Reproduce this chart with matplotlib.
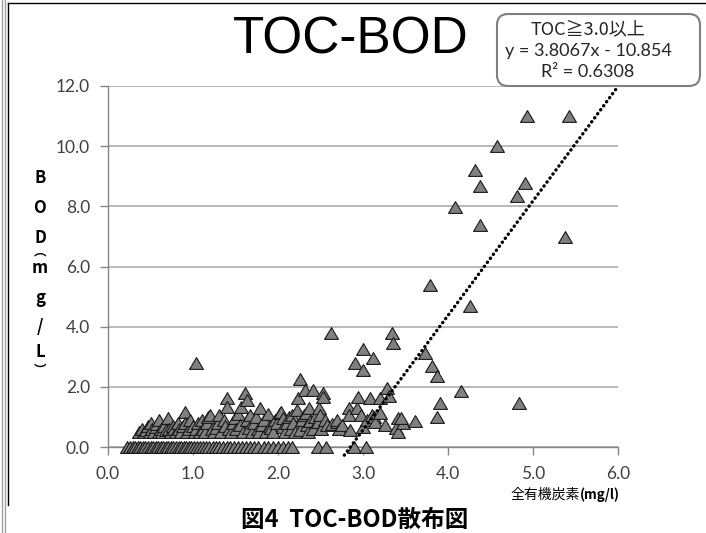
import matplotlib
matplotlib.use("Agg")
import matplotlib.pyplot as plt
import matplotlib.patches as mpatches
from matplotlib.lines import Line2D
from matplotlib.transforms import IdentityTransform
from matplotlib.ticker import FormatStrFormatter

# --- data ---
# BOD below detection limit, plotted at 0
nd_toc = [0.22, 0.26, 0.29, 0.32, 0.35, 0.38, 0.41, 0.44, 0.47, 0.50,
          0.53, 0.56, 0.59, 0.62, 0.65, 0.68, 0.71, 0.74, 0.77, 0.80,
          0.83, 0.86, 0.89, 0.92, 0.95, 0.98, 1.01, 1.05, 1.08, 1.12,
          1.15, 1.19, 1.23, 1.27, 1.31, 1.35, 1.40, 1.44, 1.48, 1.53,
          1.58, 1.62, 1.67, 1.72, 1.77, 1.83, 1.88, 1.94, 2.00, 2.06,
          2.12, 2.17, 2.47, 2.56, 2.89, 3.04]
nd_bod = [0.0] * len(nd_toc)

# TOC < 1.2
low_pts = [(0.37, 0.5), (0.40, 0.6), (0.42, 0.5), (0.45, 0.55), (0.47, 0.7),
           (0.49, 0.5), (0.50, 0.8), (0.52, 0.6), (0.54, 0.5), (0.56, 0.65),
           (0.58, 0.75), (0.60, 0.5), (0.60, 0.9), (0.62, 0.6), (0.64, 0.5),
           (0.66, 0.7), (0.68, 0.55), (0.71, 0.97), (0.72, 0.6), (0.74, 0.5),
           (0.76, 0.7), (0.78, 0.6), (0.80, 0.5), (0.82, 0.8), (0.84, 0.6),
           (0.86, 0.5), (0.88, 0.7), (0.91, 1.17), (0.91, 0.8), (0.93, 0.5),
           (0.95, 0.6), (0.97, 0.9), (1.00, 0.7), (1.02, 0.5), (1.03, 2.8),
           (1.04, 0.6), (1.06, 0.8), (1.08, 0.5), (1.10, 0.9), (1.12, 0.6),
           (1.14, 0.5), (1.16, 0.8), (1.18, 1.0)]

# 1.2 <= TOC < 3.0
mid_pts = [(1.20, 1.06), (1.22, 0.6), (1.25, 0.5), (1.27, 0.62), (1.29, 0.8),
           (1.31, 1.06), (1.33, 0.5), (1.36, 0.9), (1.38, 0.7), (1.40, 1.62),
           (1.40, 1.34), (1.42, 0.6), (1.45, 0.5), (1.47, 0.8), (1.49, 0.95),
           (1.51, 0.6), (1.53, 1.1), (1.55, 0.73), (1.57, 1.34), (1.59, 0.5),
           (1.61, 1.78), (1.63, 1.56), (1.64, 0.9), (1.66, 0.62), (1.67, 1.06),
           (1.69, 0.5), (1.72, 0.8), (1.74, 1.0), (1.76, 0.6), (1.78, 0.5),
           (1.79, 1.29), (1.81, 0.73), (1.84, 0.9), (1.86, 0.5), (1.88, 1.1),
           (1.90, 0.7), (1.92, 0.62), (1.94, 0.5), (1.97, 0.9), (1.99, 0.8),
           (2.02, 1.12), (2.04, 1.17), (2.06, 0.95), (2.06, 0.68), (2.08, 0.5),
           (2.10, 0.8), (2.13, 1.0), (2.15, 0.6), (2.17, 1.06), (2.18, 0.79),
           (2.20, 0.5), (2.22, 1.23), (2.24, 1.62), (2.26, 2.25), (2.26, 0.56),
           (2.28, 0.9), (2.30, 1.06), (2.32, 1.88), (2.33, 1.12), (2.34, 0.73),
           (2.35, 0.5), (2.36, 1.28), (2.38, 0.85), (2.41, 1.9), (2.41, 0.6),
           (2.44, 1.0), (2.47, 0.84), (2.48, 1.28), (2.49, 1.06), (2.50, 0.6),
           (2.53, 1.78), (2.53, 1.65), (2.55, 0.9), (2.58, 0.73), (2.62, 3.78),
           (2.64, 0.75), (2.69, 0.84), (2.69, 0.9), (2.72, 0.6), (2.75, 0.73),
           (2.83, 1.28), (2.83, 1.06), (2.85, 0.56), (2.91, 2.78), (2.93, 1.28),
           (2.94, 1.65), (2.98, 1.06)]

# TOC >= 3.0
high_pts = [(3.00, 3.25), (3.00, 2.56), (3.00, 0.68), (3.05, 0.9), (3.08, 1.62),
            (3.10, 1.06), (3.12, 2.97), (3.13, 1.0), (3.14, 0.84), (3.20, 1.12),
            (3.20, 1.62), (3.26, 0.73), (3.28, 1.95), (3.30, 1.7), (3.34, 3.78),
            (3.35, 3.45), (3.39, 0.62), (3.41, 0.95), (3.41, 0.51), (3.47, 0.81),
            (3.45, 0.95), (3.61, 0.87), (3.73, 3.14), (3.79, 5.39), (3.81, 2.69),
            (3.87, 2.36), (3.87, 0.99), (3.91, 1.47), (4.08, 7.99), (4.15, 1.87),
            (4.26, 4.69), (4.32, 9.2), (4.38, 8.68), (4.38, 7.38), (4.58, 10.0),
            (4.81, 8.34), (4.84, 1.47), (4.90, 8.79), (4.93, 11.0), (5.38, 6.97),
            (5.42, 11.0)]

# linear trend for TOC >= 3.0
slope, intercept = 3.8067, -10.854
trend_x = [2.78, 6.0]

x_ticks = [0, 1, 2, 3, 4, 5, 6]
y_ticks = [0, 2, 4, 6, 8, 10, 12]
ylabel_chars = ["B", "O", "D", "︵", "m", "g", "/", "L", "︶"]

W, H = 706, 533
CJK = ["Noto Sans CJK JP", "DejaVu Sans"]
TICK_FONT = "Lato"
GRID = "#a6a6a6"
AXIS = "#868686"

fig = plt.figure(figsize=(W / 100, H / 100), dpi=100)
ax = fig.add_axes([108 / W, 1 - 447 / H, 510 / W, 361 / H])

toc = list(nd_toc)
bod = list(nd_bod)
for grp in (low_pts, mid_pts, high_pts):
    toc += [p[0] for p in grp]
    bod += [p[1] for p in grp]

tri = [(-1, -0.85), (1, -0.85), (0, 0.85), (-1, -0.85)]
ax.scatter(toc, bod, marker=tri, s=10 ** 2, c="#808080",
           edgecolors="#1a1a1a", linewidths=0.8, zorder=3, clip_on=False)

trend_y = [slope * x + intercept for x in trend_x]
ax.plot(trend_x, trend_y, color="black", lw=2.4, linestyle=(0, (0.1, 1.4)),
        dash_capstyle="round", zorder=4, clip_on=False)

ax.set_xlim(0, 6)
ax.set_ylim(0, 12)
ax.set_xticks(x_ticks)
ax.set_yticks(y_ticks)
ax.xaxis.set_major_formatter(FormatStrFormatter("%.1f"))
ax.yaxis.set_major_formatter(FormatStrFormatter("%.1f"))
ax.yaxis.grid(True, color=GRID, lw=1.1)
ax.set_axisbelow(True)
for s in ("top", "right"):
    ax.spines[s].set_visible(False)
for s in ("left", "bottom"):
    ax.spines[s].set_color(AXIS)
    ax.spines[s].set_linewidth(1)
ax.tick_params(direction="out", length=6, width=1, color=AXIS,
               labelsize=12.5, labelcolor="#404040")
ax.tick_params(axis="x", pad=8)
ax.tick_params(axis="y", pad=7)
for lab in ax.get_xticklabels() + ax.get_yticklabels():
    lab.set_family(TICK_FONT)

# title
fig.text(351 / W, 1 - 40 / H, "TOC-BOD", ha="center", va="center",
         fontsize=37, family="Liberation Sans")

# vertical y label, one glyph per row (vertical-form brackets a bit smaller)
ylab_y = [178, 208, 238, 252, 268, 298, 327, 352, 370]
for ch, py in zip(ylabel_chars, ylab_y):
    fig.text(40 / W, 1 - py / H, ch, ha="center", va="center",
             fontsize=9 if ch in "︵︶" else 12,
             fontweight="bold", family=CJK)

# x label: kanji regular, unit bold, right aligned under the axis end
unit = fig.text(620 / W, 1 - 495 / H, "(mg/l)", ha="right", va="center",
                fontsize=9.5, fontweight="bold", family=CJK)
fig.canvas.draw()
ux0 = unit.get_window_extent().x0
fig.text(ux0 / W, 1 - 495 / H, "全有機炭素", ha="right", va="center",
         fontsize=10, family=CJK)

fig.text(355 / W, 1 - 520 / H, "図4  TOC-BOD散布図", ha="center", va="center",
         fontsize=17, fontweight="bold", family=CJK)

# trend label box
box = mpatches.FancyBboxPatch((497, H - 86), 203, 72,
                              boxstyle="round,pad=0,rounding_size=11",
                              fc="white", ec="#7f7f7f", lw=1.5,
                              transform=IdentityTransform(), zorder=5)
fig.add_artist(box)
for txt, py in zip(["TOC≧3.0以上", "y = 3.8067x - 10.854", "R² = 0.6308"],
                   [29, 51, 72]):
    fig.text(588 / W, 1 - py / H, txt, ha="center", va="center", fontsize=13,
             family=CJK if "以" in txt else [TICK_FONT, "DejaVu Sans"],
             color="#262626", zorder=6)

# outer frame lines
fig.add_artist(Line2D([2 / W, 2 / W], [0, 1], color="#a0a0a0", lw=1))
fig.add_artist(Line2D([5 / W, 5 / W], [0, 1], color="#a0a0a0", lw=1))
fig.add_artist(Line2D([8 / W, 8 / W], [1 - 505 / H, 1 - 3 / H], color="black", lw=1))
fig.add_artist(Line2D([8 / W, 1], [1 - 3 / H, 1 - 3 / H], color="black", lw=1))

fig.savefig("out.png", dpi=100)
